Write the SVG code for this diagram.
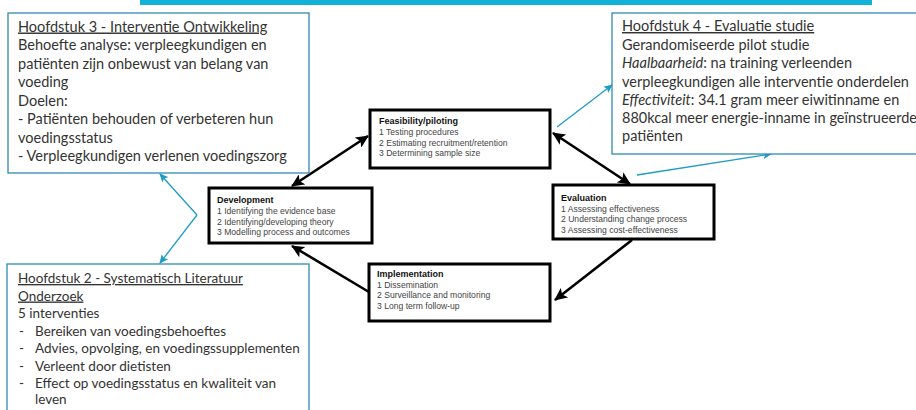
<svg xmlns="http://www.w3.org/2000/svg" width="916" height="410" viewBox="0 0 916 410">
<style>
.tb{fill:#fff;stroke:#2f8bb2;stroke-width:1.3}
.tx{font-family:Lato,"Liberation Sans",sans-serif;font-size:14.5px;fill:#333}
.tx2{font-family:Lato,"Liberation Sans",sans-serif;font-size:13.5px;fill:#333}
.u{text-decoration:underline}
.it{font-style:italic}
.bx{fill:#fff;stroke:#000;stroke-width:3}
.h{font-family:"Liberation Sans",Arial,sans-serif;font-size:9px;font-weight:bold;fill:#111}
.s{font-family:"Liberation Sans",Arial,sans-serif;font-size:8.6px;fill:#444}
.bl{stroke:#000;stroke-width:2.6;fill:none}
.tl{stroke:#1e9cc4;stroke-width:1.3;fill:none}
</style>
<defs>
<marker id="ah" markerUnits="userSpaceOnUse" markerWidth="14" markerHeight="12" refX="12" refY="6" orient="auto-start-reverse" viewBox="0 0 14 12">
<path d="M0,0 L13,6 L0,12 L3,6 Z" fill="#000"/>
</marker>
<marker id="ta" markerUnits="userSpaceOnUse" markerWidth="9" markerHeight="8" refX="8" refY="4" orient="auto" viewBox="0 0 9 8">
<path d="M0,0 L9,4 L0,8 L2,4 Z" fill="#1e9cc4"/>
</marker>
</defs>
<rect x="140" y="0" width="732" height="5" fill="#12b2d8"/>

<g id="connectors">
<line class="bl" x1="292" y1="186" x2="368" y2="136" marker-start="url(#ah)" marker-end="url(#ah)"/>
<line class="bl" x1="553" y1="133" x2="630" y2="184" marker-start="url(#ah)" marker-end="url(#ah)"/>
<line class="bl" x1="632" y1="240" x2="555" y2="300" marker-end="url(#ah)"/>
<line class="bl" x1="369" y1="292" x2="292" y2="246" marker-end="url(#ah)"/>
<line class="tl" x1="557" y1="127" x2="612" y2="85" marker-end="url(#ta)"/>
<line class="tl" x1="637" y1="175" x2="771" y2="154" marker-end="url(#ta)"/>
<line class="tl" x1="197" y1="215" x2="160" y2="174" marker-end="url(#ta)"/>
<line class="tl" x1="197" y1="215" x2="160" y2="263" marker-end="url(#ta)"/>
</g>

<g id="hoofdstuk3">
<rect class="tb" x="8" y="13" width="301" height="160"/>
<text class="tx" x="18"><tspan class="u" y="31.5">Hoofdstuk 3 - Interventie Ontwikkeling</tspan><tspan x="18" y="50">Behoefte analyse: verpleegkundigen en</tspan><tspan x="18" y="68.5">patiënten zijn onbewust van belang van</tspan><tspan x="18" y="87">voeding</tspan><tspan x="18" y="105.5">Doelen:</tspan><tspan x="18" y="124">- Patiënten behouden of verbeteren hun</tspan><tspan x="18" y="142.5">voedingsstatus</tspan><tspan x="18" y="161">- Verpleegkundigen verlenen voedingszorg</tspan></text>
</g>

<g id="hoofdstuk4">
<rect class="tb" x="612" y="13" width="310" height="141"/>
<text class="tx" x="622"><tspan class="u" y="31">Hoofdstuk 4 -  Evaluatie studie</tspan><tspan x="622" y="49.5">Gerandomiseerde pilot studie</tspan><tspan x="622" y="68"><tspan class="it">Haalbaarheid</tspan>: na training verleenden</tspan><tspan x="622" y="86.5">verpleegkundigen alle interventie onderdelen</tspan><tspan x="622" y="105"><tspan class="it">Effectiviteit</tspan>: 34.1 gram meer eiwitinname en</tspan><tspan x="622" y="123">880kcal meer energie-inname in geïnstrueerde</tspan><tspan x="622" y="141">patiënten</tspan></text>
</g>

<g id="hoofdstuk2">
<rect class="tb" x="7" y="264" width="302" height="160"/>
<text class="tx2" x="18"><tspan class="u" y="283">Hoofdstuk 2 - Systematisch Literatuur</tspan><tspan class="u" x="18" y="300.5">Onderzoek</tspan><tspan x="18" y="318">5 interventies</tspan></text>
<text class="tx2"><tspan x="19" y="335.5">-</tspan><tspan x="35" y="335.5">Bereiken van voedingsbehoeftes</tspan><tspan x="19" y="353">-</tspan><tspan x="35" y="353">Advies, opvolging, en voedingssupplementen</tspan><tspan x="19" y="370.5">-</tspan><tspan x="35" y="370.5">Verleent door dietisten</tspan><tspan x="19" y="388">-</tspan><tspan x="35" y="388">Effect op voedingsstatus en kwaliteit van</tspan><tspan x="35" y="404">leven</tspan></text>
</g>

<g id="feasibility">
<rect class="bx" x="370" y="110" width="180" height="58"/>
<text class="h" x="379" y="124">Feasibility/piloting</text>
<text class="s"><tspan x="379" y="135">1 Testing procedures</tspan><tspan x="379" y="145.5">2 Estimating recruitment/retention</tspan><tspan x="379" y="156">3 Determining sample size</tspan></text>
</g>

<g id="development">
<rect class="bx" x="209" y="188" width="163" height="55"/>
<text class="h" x="217" y="203">Development</text>
<text class="s"><tspan x="217" y="214">1 Identifying the evidence base</tspan><tspan x="217" y="224.5">2 Identifying/developing theory</tspan><tspan x="217" y="235">3 Modelling process and outcomes</tspan></text>
</g>

<g id="evaluation">
<rect class="bx" x="553" y="185" width="161" height="54"/>
<text class="h" x="561" y="201">Evaluation</text>
<text class="s"><tspan x="561" y="211.5">1 Assessing effectiveness</tspan><tspan x="561" y="222">2 Understanding change process</tspan><tspan x="561" y="232.5">3 Assessing cost-effectiveness</tspan></text>
</g>

<g id="implementation">
<rect class="bx" x="369" y="264" width="181" height="57"/>
<text class="h" x="377" y="277">Implementation</text>
<text class="s"><tspan x="377" y="287.5">1 Dissemination</tspan><tspan x="377" y="298">2 Surveillance and monitoring</tspan><tspan x="377" y="308.5">3 Long term follow-up</tspan></text>
</g>
</svg>
